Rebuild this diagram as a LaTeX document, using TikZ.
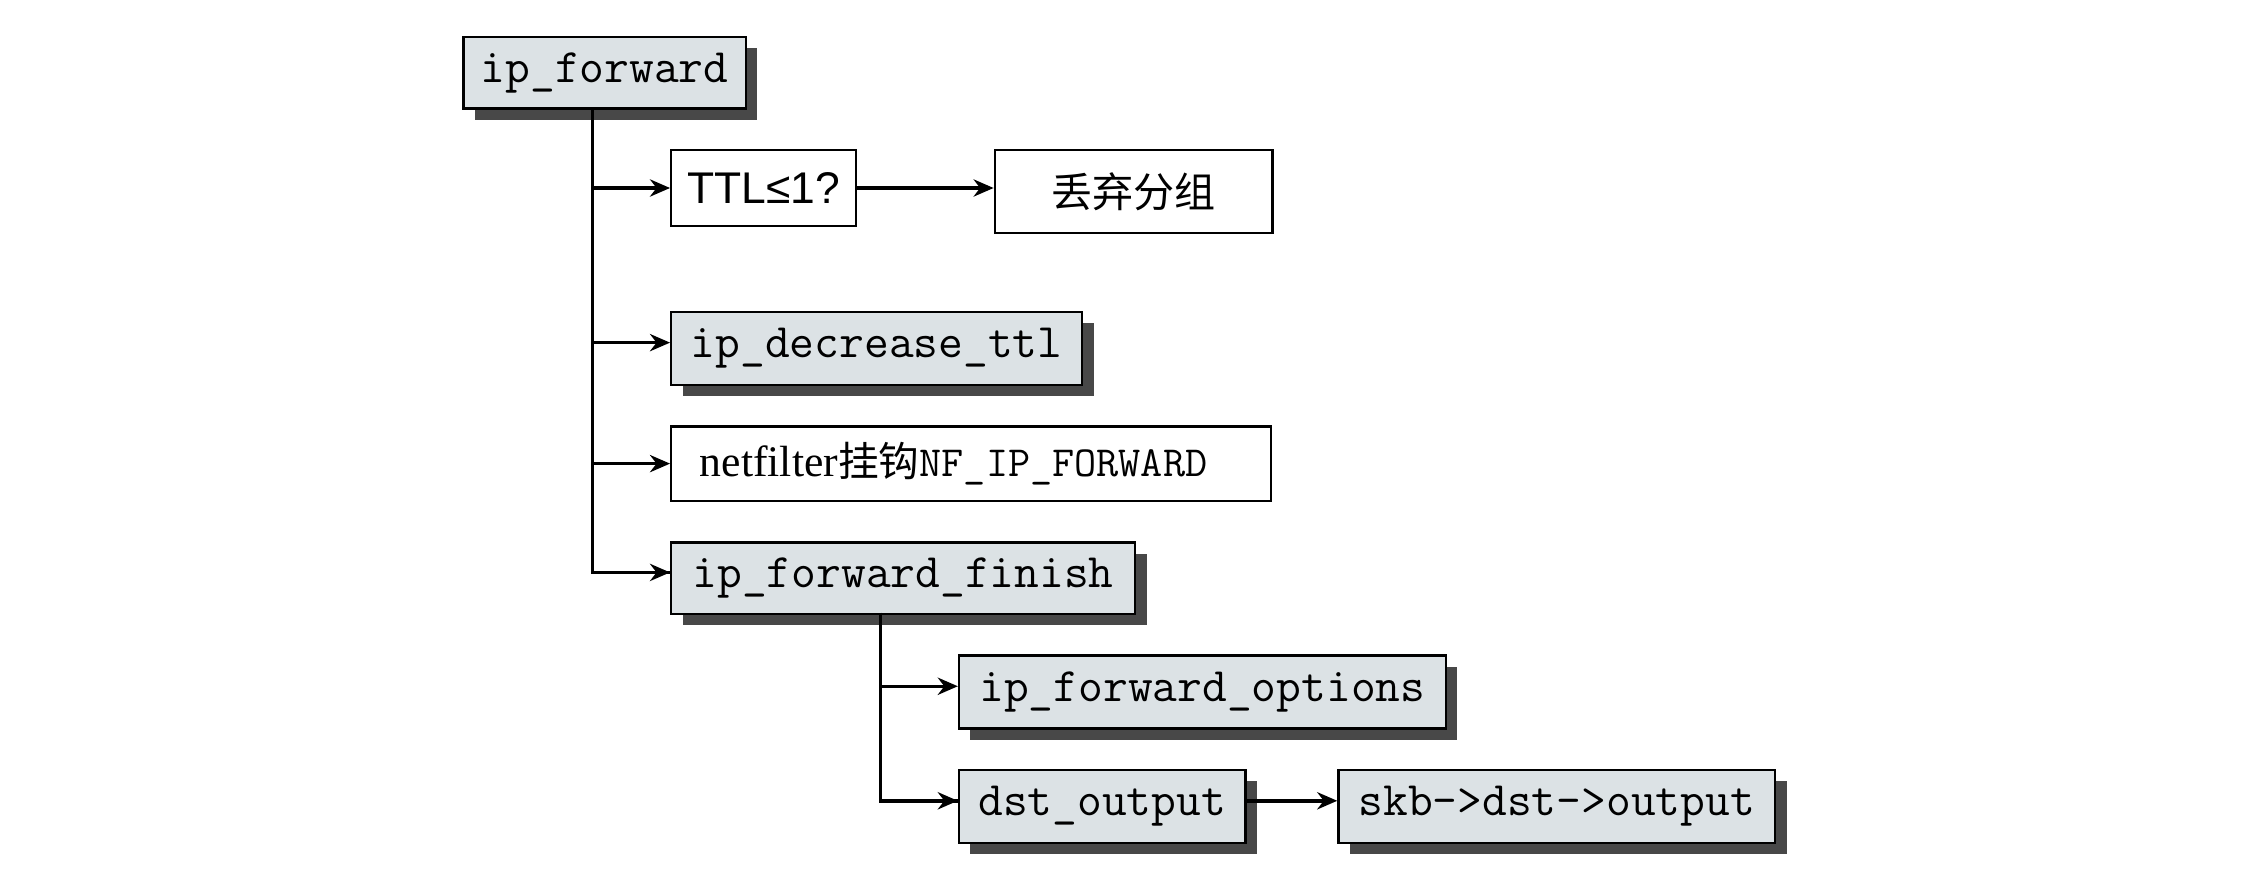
\documentclass[tikz,border=0pt]{standalone}
\usepackage{fontspec}
\setmainfont{Liberation Serif}
\newfontfamily\cjk{Noto Sans CJK SC}
\newfontfamily\sansf{Liberation Sans}
\usetikzlibrary{arrows.meta,shadows}
\definecolor{boxfill}{RGB}{220,226,229}
\definecolor{shadowc}{RGB}{72,72,72}
\begin{document}
\begin{tikzpicture}[x=1pt,y=-1pt,
  base/.style={draw=black, line width=1.6pt, anchor=north west, inner sep=0pt, align=center},
  codebox/.style={base, fill=boxfill, font=\fontsize{33.6}{40}\selectfont\ttfamily,
    drop shadow={shadow xshift=8pt, shadow yshift=-8pt, fill=shadowc, opacity=1, draw=none}},
  plainbox/.style={base, fill=white},
  link/.style={line width=2.4pt, -{Stealth[length=14pt,width=12pt]}},
  trunk/.style={line width=2.4pt}]
\useasboundingbox (0,0) rectangle (1568,622);

\node[codebox, minimum width=197pt, minimum height=50pt] (ipf) at (323,25) {ip\_forward};
\node[plainbox, minimum width=129pt, minimum height=53pt, font=\sansf\fontsize{31}{36}\selectfont] (ttl) at (468,104) {TTL≤1?};
\node[plainbox, minimum width=194pt, minimum height=58pt, font=\cjk\fontsize{28.7}{34}\selectfont] (drop) at (694,104) {丢弃分组};
\node[codebox, minimum width=287pt, minimum height=51pt] (dec) at (468,217) {ip\_decrease\_ttl};
\node[plainbox, minimum width=419pt, minimum height=52pt, text width=379pt, inner xsep=20pt, align=left, font=\fontsize{30.5}{36}\selectfont] (nf) at (468,297) {netfilter{\cjk\fontsize{28.5}{34}\selectfont 挂钩}{\ttfamily\fontsize{30}{36}\selectfont NF\_IP\_FORWARD}};
\node[codebox, minimum width=324pt, minimum height=50pt] (fin) at (468,378) {ip\_forward\_finish};
\node[codebox, minimum width=340pt, minimum height=51pt] (opt) at (669,457) {ip\_forward\_options};
\node[codebox, minimum width=200pt, minimum height=51pt] (dst) at (669,537) {dst\_output};
\node[codebox, minimum width=305pt, minimum height=51pt] (skb) at (934,537) {skb->dst->output};

\coordinate (t1) at (414,75);
\coordinate (t2) at (615,428);

\draw[trunk] (t1) |- ([yshift=4pt]fin.west);
\draw[link] (t1) |- (ttl.west);
\draw[link] (t1) |- ([yshift=4pt]dec.west);
\draw[link] (t1) |- (nf.west);
\draw[link] (t1) |- ([yshift=4pt]fin.west);
\draw[link] (ttl.east) -- (ttl.east -| drop.west);

\draw[trunk] (t2) |- ([yshift=4pt]dst.west);
\draw[link] (t2) |- ([yshift=4pt]opt.west);
\draw[link] (t2) |- ([yshift=4pt]dst.west);
\draw[link] ([yshift=4pt]dst.east) -- ([yshift=4pt]dst.east -| skb.west);
\end{tikzpicture}
\end{document}
